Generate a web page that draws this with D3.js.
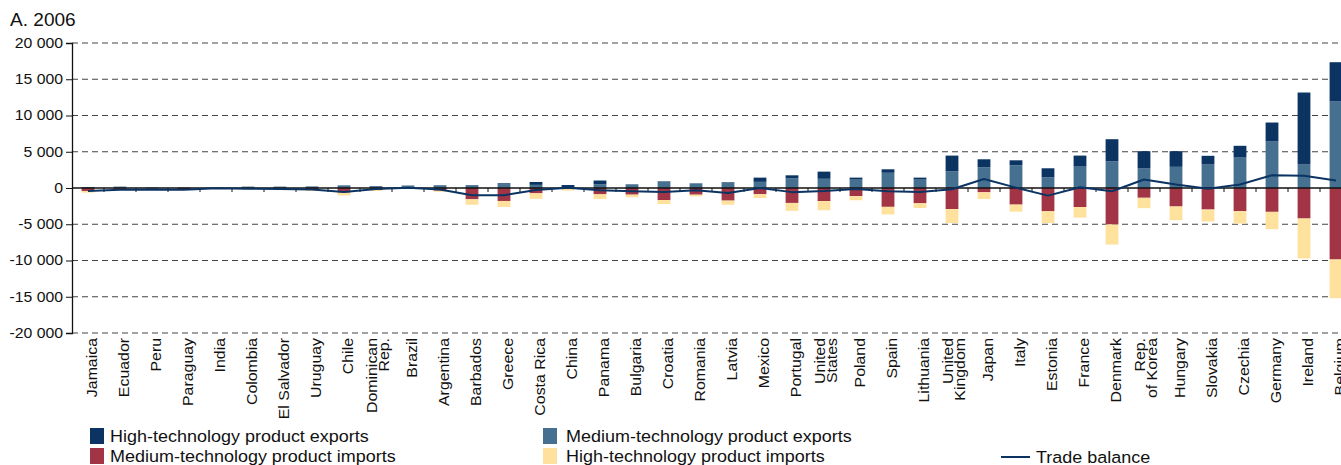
<!DOCTYPE html>
<html>
<head>
<meta charset="utf-8">
<script src="https://cdn.jsdelivr.net/npm/d3@7/dist/d3.min.js"></script>
<style>
  html, body { margin: 0; padding: 0; background: #fff; overflow: hidden; }
  svg { display: block; font-family: "Liberation Sans", Arial, sans-serif; }
</style>
</head>
<body>
<svg id="chart" width="1341" height="465"></svg>
<script>
// Countries, ordered by total technology trade
const countries = [
  "Jamaica", "Ecuador", "Peru", "Paraguay", "India", "Colombia", "El Salvador",
  "Uruguay", "Chile", "Dominican\nRep.", "Brazil", "Argentina", "Barbados",
  "Greece", "Costa Rica", "China", "Panama", "Bulgaria", "Croatia", "Romania",
  "Latvia", "Mexico", "Portugal", "United\nStates", "Poland", "Spain",
  "Lithuania", "United\nKingdom", "Japan", "Italy", "Estonia", "France",
  "Denmark", "Rep.\nof Korea", "Hungary", "Slovakia", "Czechia", "Germany",
  "Ireland", "Belgium"
];

const mediumTechExports = [
  60, 80, 40, 30, 20, 100, 90, 120, 330, 80, 300, 280, 380, 480, 430, 100,
  510, 450, 850, 600, 720, 850, 1340, 1270, 1240, 2100, 1240, 2300, 2860, 3130,
  1480, 2950, 3660, 2690, 2920, 3240, 4200, 6410, 3240, 11930
];
const highTechExports = [
  80, 100, 30, 30, 10, 80, 90, 80, 40, 150, 40, 80, 30, 170, 400, 310,
  520, 60, 70, 50, 80, 580, 410, 990, 190, 480, 190, 2170, 1100, 690,
  1240, 1520, 3070, 2390, 2160, 1200, 1620, 2620, 9930, 5420
];
const mediumTechImports = [
  410, 120, 60, 180, 20, 100, 160, 300, 640, 280, 30, 380, 1560, 1790, 730, 100,
  870, 920, 1670, 920, 1740, 850, 2060, 1800, 1120, 2600, 2110, 2900, 590, 2290,
  3210, 2620, 5030, 1350, 2550, 2970, 3200, 3290, 4210, 9860
];
const highTechImports = [
  230, 60, 40, 60, 20, 120, 110, 120, 400, 130, 40, 140, 750, 830, 760, 260,
  650, 360, 540, 230, 560, 530, 1090, 1270, 570, 1050, 650, 1930, 930, 970,
  1620, 1460, 2770, 1430, 1890, 1650, 1700, 2390, 5510, 5340
];
const tradeBalance = [
  -400, -250, -200, -250, -30, -100, -150, -200, -550, -150, 50, -200, -1000,
  -1000, -280, 50, -300, -450, -550, -300, -700, 0, -570, -430, -150, -450,
  -550, -180, 1240, 50, -1050, 100, -440, 1170, 480, -110, 480, 1770, 1680, 1030
];

const yTicks = [20000, 15000, 10000, 5000, 0, -5000, -10000, -15000, -20000];

const seriesKeys = ["medExp", "highExp", "medImp", "highImp"];
const seriesNames = {
  highExp: "High-technology product exports",
  medExp: "Medium-technology product exports",
  medImp: "Medium-technology product imports",
  highImp: "High-technology product imports"
};
const colors = {
  highExp: "#0b3463",
  medExp: "#46708f",
  medImp: "#a23545",
  highImp: "#fee19d"
};
const lineColor = "#0b3463";

// Table for the stack layout: imports go below zero
const rows = countries.map((c, i) => ({
  country: c,
  medExp: mediumTechExports[i],
  highExp: highTechExports[i],
  medImp: -mediumTechImports[i],
  highImp: -highTechImports[i]
}));

const svg = d3.select("#chart");

const plotLeft = 72, plotTop = 43, plotBottom = 333;
const x = d3.scaleBand().domain(countries).range([plotLeft, plotLeft + 32 * countries.length]).padding(0);
const y = d3.scaleLinear().domain([-20000, 20000]).range([plotBottom, plotTop]);
const barW = x.bandwidth() * 0.4;
const cx = c => x(c) + x.bandwidth() / 2;

const fmt = v => (v < 0 ? "-" : "") + d3.format(",")(Math.abs(v)).replace(/,/g, " ");

// Title
svg.append("text")
  .attr("transform", "translate(10,26) scale(1.06,1)")
  .attr("font-size", 18).attr("fill", "#111")
  .text("A. 2006");

// Dashed gridlines
svg.append("g").selectAll("line")
  .data(yTicks.filter(t => t !== 0))
  .join("line")
  .attr("x1", plotLeft).attr("x2", x.range()[1])
  .attr("y1", d => y(d)).attr("y2", d => y(d))
  .attr("stroke", "#444").attr("stroke-width", 1.1)
  .attr("stroke-dasharray", "6,4");

// Stacked bars
const stack = d3.stack().keys(seriesKeys).offset(d3.stackOffsetDiverging);
const layers = stack(rows);
svg.append("g").selectAll("g")
  .data(layers)
  .join("g")
  .attr("fill", d => colors[d.key])
  .selectAll("rect")
  .data(d => d)
  .join("rect")
  .attr("x", d => cx(d.data.country) - barW / 2)
  .attr("width", barW)
  .attr("y", d => y(Math.max(d[0], d[1])))
  .attr("height", d => Math.abs(y(d[0]) - y(d[1])));

// Zero axis with category ticks
const xAxis = svg.append("g");
xAxis.append("line")
  .attr("x1", plotLeft).attr("x2", x.range()[1])
  .attr("y1", y(0)).attr("y2", y(0))
  .attr("stroke", "#111").attr("stroke-width", 1.3);
xAxis.selectAll("line.tick")
  .data(countries.slice(1))
  .join("line")
  .attr("class", "tick")
  .attr("x1", d => x(d)).attr("x2", d => x(d))
  .attr("y1", y(0)).attr("y2", y(0) + 4)
  .attr("stroke", "#111").attr("stroke-width", 1);

// Trade balance line
svg.append("path")
  .datum(tradeBalance)
  .attr("fill", "none")
  .attr("stroke", lineColor)
  .attr("stroke-width", 2)
  .attr("stroke-linejoin", "round")
  .attr("d", d3.line().x((d, i) => cx(countries[i])).y(d => y(d)));

// Y axis: ticks from d3, labels drawn slightly widened
const yAxis = svg.append("g")
  .attr("transform", `translate(${plotLeft},0)`)
  .call(d3.axisLeft(y).tickValues(yTicks).tickSize(6).tickFormat(""));
yAxis.select(".domain").attr("stroke", "#111").attr("stroke-width", 1.3);
yAxis.selectAll(".tick line").attr("stroke", "#111");
svg.append("g").selectAll("text")
  .data(yTicks)
  .join("text")
  .attr("transform", d => `translate(63,${y(d)}) scale(1.13,1)`)
  .attr("text-anchor", "end")
  .attr("dy", "0.35em")
  .attr("font-size", 14)
  .attr("fill", "#111")
  .text(fmt);

// Category labels, rotated
const labelG = svg.append("g");
countries.forEach(c => {
  const lines = c.split("\n");
  lines.forEach((ln, i) => {
    const bx = cx(c) + (lines.length === 1 ? 8.7 : 1 + i * 11.7);
    labelG.append("text")
      .attr("transform", `translate(${bx},338) rotate(-90) scale(1.06,1)`)
      .attr("text-anchor", "end")
      .attr("font-size", 15)
      .attr("fill", "#111")
      .text(ln);
  });
});

// Legend
const legend = svg.append("g");
const legendItems = [
  { key: "highExp", x: 90, tx: 110, y: 428 },
  { key: "medExp", x: 543, tx: 566, y: 428 },
  { key: "medImp", x: 90, tx: 110, y: 448 },
  { key: "highImp", x: 543, tx: 566, y: 448 }
];
legendItems.forEach(it => {
  legend.append("rect")
    .attr("x", it.x).attr("y", it.y)
    .attr("width", 14).attr("height", 16)
    .attr("fill", colors[it.key]);
  legend.append("text")
    .attr("transform", `translate(${it.tx},${it.y + 14}) scale(1.09,1)`)
    .attr("font-size", 16.5).attr("fill", "#111")
    .text(seriesNames[it.key]);
});
legend.append("line")
  .attr("x1", 1001).attr("x2", 1030)
  .attr("y1", 457).attr("y2", 457)
  .attr("stroke", lineColor).attr("stroke-width", 2);
legend.append("text")
  .attr("transform", "translate(1036,463) scale(1.09,1)")
  .attr("font-size", 16.5).attr("fill", "#111")
  .text("Trade balance");
</script>
</body>
</html>
